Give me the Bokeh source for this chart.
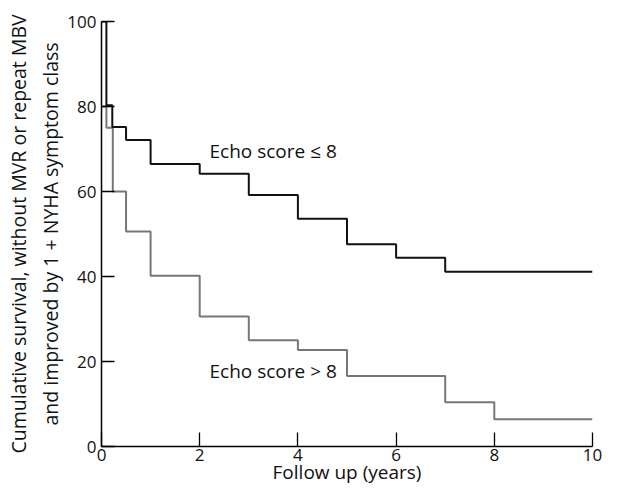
from bokeh.plotting import figure
from bokeh.models import Range1d, FixedTicker
from bokeh.core.properties import value
from bokeh.embed import file_html
from bokeh.resources import INLINE

# Data
years_low = [0, 0.1, 0.22, 0.5, 1, 2, 3, 4, 5, 6, 7, 10]
surv_low = [100, 80.3, 75.2, 72.1, 66.5, 64.2, 59.2, 53.6, 47.6, 44.4, 41.1, 41.1]

years_high = [0, 0.1, 0.23, 0.5, 1, 2, 3, 4, 5, 7, 8, 10]
surv_high = [80, 75, 60, 50.6, 40.2, 30.6, 25.0, 22.7, 16.6, 10.4, 6.4, 6.4]

x_ticks = [0, 2, 4, 6, 8, 10]
y_ticks = [0, 20, 40, 60, 80, 100]

labels = ["Echo score \u2264 8", "Echo score > 8"]
label_x = [2.2, 2.2]
label_y = [69.5, 17.7]

FONT = "Open Sans"

p = figure(width=602, height=487, x_range=Range1d(0, 10), y_range=Range1d(0, 100),
           output_backend="svg", toolbar_location=None,
           min_border_left=101, min_border_right=10, min_border_top=21, min_border_bottom=41)
p.outline_line_color = None
p.xgrid.visible = False
p.ygrid.visible = False
p.background_fill_color = "white"
p.border_fill_color = "white"

p.step(years_high, surv_high, mode="after", line_color="#777777", line_width=2)
p.step(years_low, surv_low, mode="after", line_color="#111111", line_width=2)

p.text(label_x, label_y, text=labels, text_font=value(FONT), text_font_size="19px",
       text_baseline="middle", text_align="left", text_color="#111111")

for ax in (p.xaxis[0], p.yaxis[0]):
    ax.axis_line_color = "black"
    ax.axis_line_width = 1.5
    ax.major_tick_line_color = "black"
    ax.major_tick_line_width = 1.3
    ax.major_tick_out = 0
    ax.minor_tick_line_color = None
    ax.major_label_text_font = FONT
    ax.major_label_text_font_size = "17px"
    ax.major_label_text_color = "#111111"
    ax.axis_label_text_font = FONT
    ax.axis_label_text_font_style = "normal"
    ax.axis_label_text_color = "#111111"

p.xaxis.ticker = FixedTicker(ticks=x_ticks)
p.yaxis.ticker = FixedTicker(ticks=y_ticks)
p.xaxis.major_tick_in = 14
p.yaxis.major_tick_in = 13
p.xaxis.major_label_standoff = 2
p.yaxis.major_label_standoff = 5
p.xaxis.axis_label = "Follow up (years)"
p.xaxis.axis_label_text_font_size = "19px"
p.xaxis.axis_label_standoff = -5
p.yaxis.axis_label = "Cumulative survival, without MVR or repeat MBV\nand improved by 1 + NYHA symptom class"
p.yaxis.axis_label_text_font_size = "19.5px"
p.yaxis.axis_label_standoff = 0

open("out.html", "w").write(file_html(p, INLINE))
